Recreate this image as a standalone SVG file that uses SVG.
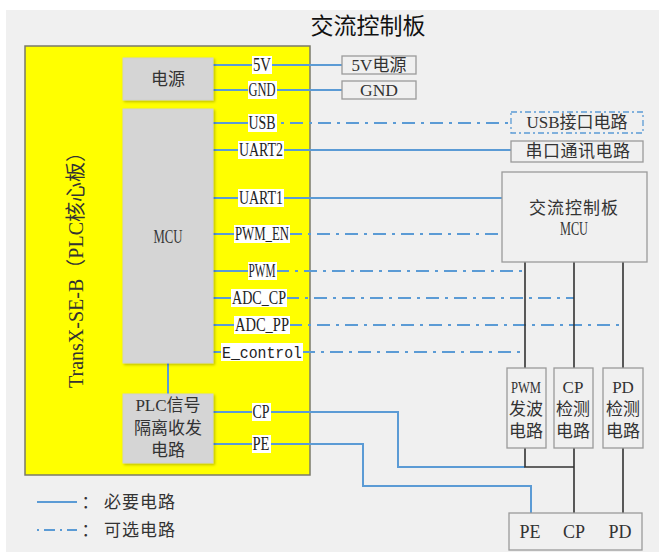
<svg xmlns="http://www.w3.org/2000/svg" width="672" height="558" viewBox="0 0 672 558">
<defs>
<style>
.req{stroke:#5b9bd5;stroke-width:2;fill:none}
.opt{stroke:#5b9bd5;stroke-width:2;fill:none;stroke-dasharray:13 6 3 6}
.blk{stroke:#333;stroke-width:1.6;fill:none}
.gbox{fill:#d5d5d5;stroke:#cfcfcf;stroke-width:1}
.wbox{fill:#f0f0f0;stroke:#9a9a9a;stroke-width:1.3}
.lbg{fill:#ffffff}
.pin{font-family:"Liberation Serif","Noto Sans CJK SC",serif;font-size:18px;fill:#222;text-anchor:middle}
.txt{font-family:"Liberation Serif","Noto Sans CJK SC",serif;font-size:17px;fill:#333;text-anchor:middle}
.cjk{font-family:"Noto Sans CJK SC",sans-serif;font-size:16px;fill:#333;text-anchor:middle}
</style>
<filter id="sh" x="-10%" y="-10%" width="130%" height="130%">
<feDropShadow dx="1.5" dy="1.5" stdDeviation="1" flood-color="#000" flood-opacity="0.25"/>
</filter>
</defs>
<rect x="0" y="0" width="672" height="558" fill="#ffffff"/>
<rect x="6" y="10" width="653" height="542" fill="#f0f0f0"/>
<text x="368" y="34" style="font-family:'Noto Sans CJK SC',sans-serif;font-size:23px;fill:#111;text-anchor:middle">交流控制板</text>

<g id="core-board">
<rect x="25" y="46" width="285" height="429" fill="#ffff00" stroke="#7a7a6a" stroke-width="1.5"/>
<text transform="translate(83,265) rotate(-90)" style="font-family:'Liberation Serif','Noto Sans CJK SC',serif;font-size:20px;fill:#333;text-anchor:middle">TransX-SE-B（PLC核心板）</text>
</g>

<g id="connectors">
<line class="req" x1="213" y1="65" x2="342" y2="65"/>
<line class="req" x1="213" y1="90" x2="342" y2="90"/>
<line class="req" x1="213" y1="123" x2="262" y2="123"/>
<line class="opt" x1="262" y1="123" x2="511" y2="123"/>
<line class="req" x1="213" y1="150" x2="511" y2="150"/>
<line class="req" x1="213" y1="198" x2="502" y2="198"/>
<line class="req" x1="213" y1="234" x2="262" y2="234"/>
<line class="opt" x1="289" y1="234" x2="502" y2="234"/>
<line class="req" x1="213" y1="271" x2="262" y2="271"/>
<line class="opt" x1="276" y1="271" x2="525" y2="271"/>
<line class="req" x1="213" y1="298" x2="262" y2="298"/>
<line class="opt" x1="286" y1="298" x2="574" y2="298"/>
<line class="req" x1="213" y1="325" x2="262" y2="325"/>
<line class="opt" x1="289" y1="325" x2="623" y2="325"/>
<line class="req" x1="213" y1="352" x2="262" y2="352"/>
<line class="opt" x1="302" y1="352" x2="525" y2="352"/>
<line class="req" x1="168" y1="363" x2="168" y2="394"/>
<polyline class="req" points="213,412 398,412 398,467 525,467"/>
<polyline class="req" points="213,444 363,444 363,486 531,486 531,513"/>
<line class="blk" x1="525" y1="262" x2="525" y2="368"/>
<line class="blk" x1="574" y1="262" x2="574" y2="368"/>
<line class="blk" x1="623" y1="262" x2="623" y2="368"/>
<polyline class="blk" points="525,448 525,467 574,467"/>
<line class="blk" x1="574" y1="448" x2="574" y2="513"/>
<line class="blk" x1="623" y1="448" x2="623" y2="513"/>
</g>

<g id="power">
<rect class="gbox" x="123" y="58" width="90" height="42" filter="url(#sh)"/>
<text class="cjk" x="168" y="85" style="font-size:17px">电源</text>
</g>
<g id="mcu">
<rect class="gbox" x="123" y="109" width="90" height="254" filter="url(#sh)"/>
<text class="txt" x="168" y="243" style="font-size:18px" textLength="29" lengthAdjust="spacingAndGlyphs">MCU</text>
</g>
<g id="plc">
<rect class="gbox" x="123" y="394" width="90" height="69" filter="url(#sh)"/>
<text class="txt" x="168" y="411">PLC信号</text>
<text class="txt" x="168" y="434">隔离收发</text>
<text class="txt" x="168" y="456">电路</text>
</g>

<g id="pin-labels">
<rect class="lbg" x="252" y="56" width="20" height="18"/>
<text class="pin" x="262" y="71" textLength="18" lengthAdjust="spacingAndGlyphs">5V</text>
<rect class="lbg" x="248" y="81" width="29" height="18"/>
<text class="pin" x="262" y="96" textLength="27" lengthAdjust="spacingAndGlyphs">GND</text>
<rect class="lbg" x="248" y="114" width="29" height="18"/>
<text class="pin" x="262" y="129" textLength="27" lengthAdjust="spacingAndGlyphs">USB</text>
<rect class="lbg" x="238" y="141" width="46" height="18"/>
<text class="pin" x="261" y="156" textLength="44" lengthAdjust="spacingAndGlyphs">UART2</text>
<rect class="lbg" x="238" y="189" width="46" height="18"/>
<text class="pin" x="261" y="204" textLength="44" lengthAdjust="spacingAndGlyphs">UART1</text>
<rect class="lbg" x="234" y="225" width="56" height="18"/>
<text class="pin" x="262" y="240" textLength="54" lengthAdjust="spacingAndGlyphs">PWM_EN</text>
<rect class="lbg" x="248" y="262" width="29" height="18"/>
<text class="pin" x="262" y="277" textLength="27" lengthAdjust="spacingAndGlyphs">PWM</text>
<rect class="lbg" x="231" y="289" width="56" height="18"/>
<text class="pin" x="259" y="304" textLength="54" lengthAdjust="spacingAndGlyphs">ADC_CP</text>
<rect class="lbg" x="234" y="316" width="56" height="18"/>
<text class="pin" x="262" y="331" textLength="54" lengthAdjust="spacingAndGlyphs">ADC_PP</text>
<rect class="lbg" x="221" y="343" width="82" height="18"/>
<text class="pin" x="262" y="358" style="font-family:'Liberation Mono',monospace;font-size:16px" textLength="80" lengthAdjust="spacingAndGlyphs">E_control</text>
<rect class="lbg" x="252" y="403" width="19" height="18"/>
<text class="pin" x="261" y="418" textLength="17" lengthAdjust="spacingAndGlyphs">CP</text>
<rect class="lbg" x="252" y="435" width="19" height="18"/>
<text class="pin" x="261" y="450" textLength="17" lengthAdjust="spacingAndGlyphs">PE</text>
</g>

<g id="ext-5v">
<rect class="wbox" x="342" y="56" width="74" height="18"/>
<text class="txt" x="379" y="71">5V电源</text>
</g>
<g id="ext-gnd">
<rect class="wbox" x="342" y="81" width="74" height="18"/>
<text class="txt" x="379" y="96" textLength="38" lengthAdjust="spacingAndGlyphs">GND</text>
</g>
<g id="ext-usb">
<rect x="511" y="112" width="132" height="21" fill="#f0f0f0" stroke="#5b9bd5" stroke-width="1.3" stroke-dasharray="6 3 2 3"/>
<text class="txt" x="577" y="128">USB接口电路</text>
</g>
<g id="ext-uart">
<rect class="wbox" x="511" y="141" width="132" height="21"/>
<text class="txt" x="578" y="157" style="letter-spacing:0.5px">串口通讯电路</text>
</g>
<g id="ac-mcu">
<rect class="wbox" x="502" y="172" width="145" height="90"/>
<text class="txt" x="574" y="214" style="letter-spacing:1px">交流控制板</text>
<text class="txt" x="574" y="235" style="font-size:18px" textLength="28" lengthAdjust="spacingAndGlyphs">MCU</text>
</g>
<g id="pwm-gen">
<rect class="wbox" x="507" y="368" width="39" height="80"/>
<text class="txt" x="526" y="393" textLength="30" lengthAdjust="spacingAndGlyphs">PWM</text>
<text class="txt" x="526" y="415">发波</text>
<text class="txt" x="526" y="437">电路</text>
</g>
<g id="cp-det">
<rect class="wbox" x="554" y="368" width="39" height="80"/>
<text class="txt" x="573" y="393">CP</text>
<text class="txt" x="573" y="415">检测</text>
<text class="txt" x="573" y="437">电路</text>
</g>
<g id="pd-det">
<rect class="wbox" x="603" y="368" width="40" height="80"/>
<text class="txt" x="623" y="393">PD</text>
<text class="txt" x="623" y="415">检测</text>
<text class="txt" x="623" y="437">电路</text>
</g>
<g id="connector-port">
<rect class="wbox" x="509" y="513" width="133" height="37"/>
<text class="txt" x="530" y="538" style="font-size:18px">PE</text>
<text class="txt" x="574" y="538" style="font-size:18px">CP</text>
<text class="txt" x="620" y="538" style="font-size:18px">PD</text>
</g>

<g id="legend">
<line class="req" x1="37" y1="502" x2="77" y2="502"/>
<line x1="37" y1="530" x2="77" y2="530" stroke="#5b9bd5" stroke-width="2" stroke-dasharray="2 5 11 5"/>
<text class="cjk" x="90" y="508" style="font-size:17px">：</text>
<text class="cjk" x="104" y="508" style="font-size:17px;text-anchor:start;letter-spacing:1px">必要电路</text>
<text class="cjk" x="90" y="536" style="font-size:17px">：</text>
<text class="cjk" x="104" y="536" style="font-size:17px;text-anchor:start;letter-spacing:1px">可选电路</text>
</g>
</svg>
